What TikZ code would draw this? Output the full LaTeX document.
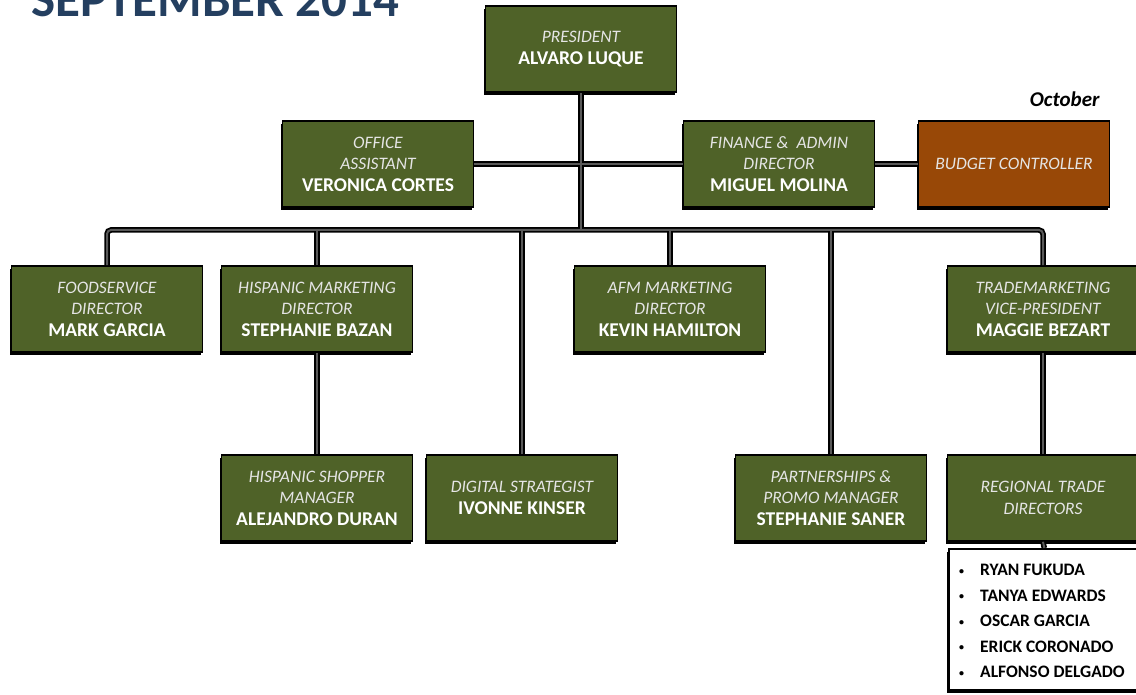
\documentclass[tikz,border=0pt]{standalone}
\usepackage{fontspec}
\setmainfont{Carlito}
\usetikzlibrary{shadows}
\definecolor{OrgOlive}{HTML}{4F6228}
\definecolor{OrgRust}{HTML}{984807}
\definecolor{OrgNavy}{HTML}{243F60}
\definecolor{OrgWire}{HTML}{595959}
\newcommand{\jobrole}[1]{{\itshape\color{white!90!black}#1}}
\newcommand{\staffname}[1]{{\fontsize{19.5}{21.5}\selectfont\bfseries #1}}
\newcommand{\rosteritem}[1]{\makebox[21pt][l]{\raisebox{1.5pt}{\fontsize{10}{10}\selectfont\textbullet}}#1}

\begin{document}
\begin{tikzpicture}[x=1pt,y=-1pt,
  unit/.style={draw=black,line width=1.6pt,fill=OrgOlive,text=white,align=center,
    minimum width=191pt,minimum height=86pt,inner sep=2pt,font=\fontsize{17.5}{21.5}\selectfont,
    drop shadow={shadow xshift=-2pt,shadow yshift=-3pt,opacity=1,fill=black}},
  roster/.style={draw=black,line width=1.6pt,fill=white,anchor=north west,
    minimum width=191pt,minimum height=141pt,inner sep=0pt,
    drop shadow={shadow xshift=-2pt,shadow yshift=-3pt,opacity=1,fill=black}}]
\path[use as bounding box] (0,0) rectangle (1136,695);
\node[anchor=base west,text=OrgNavy,font=\fontsize{51}{60}\selectfont\bfseries] (title) at (28,17) {SEPTEMBER 2014};
\node[anchor=base east,font=\fontsize{21}{24}\selectfont\bfseries\itshape] (month) at (1103,107) {October};
\node[unit] (pres) at (581,49) {\jobrole{PRESIDENT}\\\staffname{ALVARO LUQUE}};
\node[unit] (office) at (378,164) {\jobrole{OFFICE}\\\jobrole{ASSISTANT}\\\staffname{VERONICA CORTES}};
\node[unit] (finance) at (779,164) {\jobrole{FINANCE \& \ ADMIN}\\\jobrole{DIRECTOR}\\\staffname{MIGUEL MOLINA}};
\node[unit,fill=OrgRust] (budget) at (1014,164) {\jobrole{BUDGET CONTROLLER}};
\node[unit] (food) at (107,309) {\jobrole{FOODSERVICE}\\\jobrole{DIRECTOR}\\\staffname{MARK GARCIA}};
\node[unit] (hispmkt) at (317,309) {\jobrole{HISPANIC MARKETING}\\\jobrole{DIRECTOR}\\\staffname{STEPHANIE BAZAN}};
\node[unit] (afm) at (670,309) {\jobrole{AFM MARKETING}\\\jobrole{DIRECTOR}\\\staffname{KEVIN HAMILTON}};
\node[unit] (trade) at (1043,309) {\jobrole{TRADEMARKETING}\\\jobrole{VICE-PRESIDENT}\\\staffname{MAGGIE BEZART}};
\node[unit] (shopper) at (317,498) {\jobrole{HISPANIC SHOPPER}\\\jobrole{MANAGER}\\\staffname{ALEJANDRO DURAN}};
\node[unit] (digital) at (522,498) {\jobrole{DIGITAL STRATEGIST}\\\staffname{IVONNE KINSER}};
\node[unit] (partner) at (831,498) {\jobrole{PARTNERSHIPS \&}\\\jobrole{PROMO MANAGER}\\\staffname{STEPHANIE SANER}};
\node[unit] (regional) at (1043,498) {\jobrole{REGIONAL TRADE}\\\jobrole{DIRECTORS}};
\node[roster] (list) at (948,548) {};
\node[anchor=west,align=left,inner sep=0pt,font=\fontsize{17.5}{25.5}\selectfont\bfseries] (listnames) at (959,621) {%
  \rosteritem{RYAN FUKUDA}\\\rosteritem{TANYA EDWARDS}\\\rosteritem{OSCAR GARCIA}\\
  \rosteritem{ERICK CORONADO}\\\rosteritem{ALFONSO DELGADO}};
\coordinate (bus) at (581,230);
\foreach \lw/\col in {5.5/black,2/OrgWire}{
  \draw[line width=\lw pt,\col] (pres.south) -- (pres.south |- bus);
  \draw[line width=\lw pt,\col] (office.east) -- (finance.west);
  \draw[line width=\lw pt,\col] (finance.east) -- (budget.west);
  \draw[line width=\lw pt,\col,rounded corners=4pt] (food.north) |- (bus) -| (trade.north);
  \draw[line width=\lw pt,\col] (hispmkt.north) -- (hispmkt.north |- bus);
  \draw[line width=\lw pt,\col] (afm.north) -- (afm.north |- bus);
  \draw[line width=\lw pt,\col] (digital.north) -- (digital.north |- bus);
  \draw[line width=\lw pt,\col] (partner.north) -- (partner.north |- bus);
  \draw[line width=\lw pt,\col] (hispmkt.south) -- (shopper.north);
  \draw[line width=\lw pt,\col] (trade.south) -- (regional.north);
  \draw[line width=\lw pt,\col] (regional.south) -- (list.north);
}
\end{tikzpicture}
\end{document}
